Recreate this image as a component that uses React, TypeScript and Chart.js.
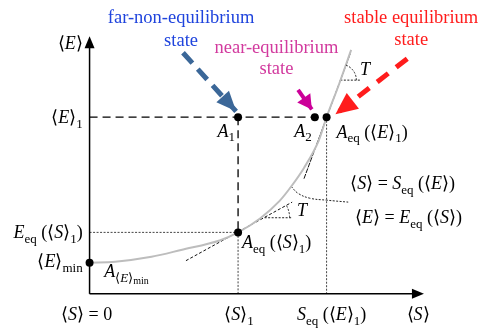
import React, { useEffect, useRef } from "react";
import { Chart, registerables } from "chart.js";
Chart.register(...registerables);

// ---- key values (x = <S>, y = <E>) ----
const S_ONE = 1.51;
const S_EQ = 2.41;
const S_A2 = 2.29;
const S_AXIS_END = 3.4;
const E_MIN = 0.32;
const E_EQ_S1 = 0.63;
const E_ONE = 1.81;
const E_AXIS_END = 2.64;

// equilibrium curve E_eq(S)
const curveS = [0, 0.26, 0.63, 0.93, 1.33, 1.51, 1.73, 1.93, 2.05, 2.18, 2.33, 2.41, 2.53, 2.66];
const curveE = [0.32, 0.33, 0.38, 0.45, 0.55, 0.63, 0.77, 0.95, 1.1, 1.29, 1.57, 1.81, 2.13, 2.5];

// tangents (slope = T)
const tangent1S = [0.98, 2.06];
const tangent1E = [0.34, 0.94];
const tangent2S = [2.18, 2.65];
const tangent2E = [1.18, 2.46];
const angle1S = [1.78, 2.06];
const angle1E = [0.78, 0.78];
const angle2S = [2.55, 2.76];
const angle2E = [2.19, 2.19];

// leader from curve to the two equation labels
const leaderS = [2.05, 2.12, 2.24, 2.41, 2.63];
const leaderE = [1.1, 1.03, 0.98, 0.96, 0.94];

// state arrows [fromS, fromE, toS, toE]
const blueArrow = [0.95, 2.47, 1.49, 1.87];
const magentaArrow = [2.12, 2.09, 2.26, 1.89];
const redArrow = [3.23, 2.41, 2.5, 1.84];

type Seg = { t: string; i?: boolean; s?: number };
const R = (t: string): Seg => ({ t });
const I = (t: string): Seg => ({ t, i: true });
const B = (t: string): Seg => ({ t, s: 1 });
const BI = (t: string): Seg => ({ t, s: 1, i: true });
const BB = (t: string): Seg => ({ t, s: 2 });

const mathLabels: { at: number[]; align: string; segs: Seg[] }[] = [
  { at: [-0.07, 2.56], align: "right", segs: [R("⟨"), I("E"), R("⟩")] },
  { at: [-0.07, 1.8], align: "right", segs: [R("⟨"), I("E"), R("⟩"), B("1")] },
  { at: [-0.07, 0.62], align: "right", segs: [I("E"), B("eq"), R(" (⟨"), I("S"), R("⟩"), B("1"), R(")")] },
  { at: [-0.07, 0.32], align: "right", segs: [R("⟨"), I("E"), R("⟩"), B("min")] },
  { at: [-0.03, -0.22], align: "center", segs: [R("⟨"), I("S"), R("⟩ = 0")] },
  { at: [1.52, -0.22], align: "center", segs: [R("⟨"), I("S"), R("⟩"), B("1")] },
  { at: [2.46, -0.22], align: "center", segs: [I("S"), B("eq"), R(" (⟨"), I("E"), R("⟩"), B("1"), R(")")] },
  { at: [3.34, -0.22], align: "center", segs: [R("⟨"), I("S"), R("⟩")] },
  { at: [1.3, 1.66], align: "left", segs: [I("A"), B("1")] },
  { at: [2.08, 1.66], align: "left", segs: [I("A"), B("2")] },
  { at: [2.51, 1.65], align: "left", segs: [I("A"), B("eq"), R(" (⟨"), I("E"), R("⟩"), B("1"), R(")")] },
  { at: [2.65, 1.12], align: "left", segs: [R("⟨"), I("S"), R("⟩ = "), I("S"), B("eq"), R(" (⟨"), I("E"), R("⟩)")] },
  { at: [2.7, 0.77], align: "left", segs: [R("⟨"), I("E"), R("⟩ = "), I("E"), B("eq"), R(" (⟨"), I("S"), R("⟩)")] },
  { at: [1.55, 0.52], align: "left", segs: [I("A"), B("eq"), R(" (⟨"), I("S"), R("⟩"), B("1"), R(")")] },
  { at: [0.15, 0.22], align: "left", segs: [I("A"), B("⟨"), BI("E"), B("⟩"), BB("min")] },
  { at: [2.16, 0.85], align: "center", segs: [I("T")] },
  { at: [2.8, 2.29], align: "center", segs: [I("T")] },
];

const stateLabels: { at: number[]; text: string; color: string }[] = [
  { at: [0.93, 2.82], text: "far-non-equilibrium", color: "#1f44dd" },
  { at: [0.93, 2.59], text: "state", color: "#1f44dd" },
  { at: [1.9, 2.52], text: "near-equilibrium", color: "#d23a9e" },
  { at: [1.9, 2.3], text: "state", color: "#d23a9e" },
  { at: [3.27, 2.82], text: "stable equilibrium", color: "#ff1c1c" },
  { at: [3.27, 2.6], text: "state", color: "#ff1c1c" },
];

const FAMILY = '"Liberation Serif"';
const segSize = (s: Seg) => (s.s === 1 ? 13 : s.s === 2 ? 10 : 18);
const segFont = (s: Seg) => `${s.i ? "italic " : ""}${segSize(s)}px ${FAMILY}`;
const segDy = (s: Seg) => (s.s === 1 ? 6 : s.s === 2 ? 9 : 0);

const pts = (xs: number[], ys: number[]) => xs.map((x, k) => ({ x, y: ys[k] }));

function drawHead(ctx: CanvasRenderingContext2D, x0: number, y0: number, x1: number, y1: number, len: number, wid: number, color: string) {
  const a = Math.atan2(y1 - y0, x1 - x0);
  ctx.save();
  ctx.translate(x1, y1);
  ctx.rotate(a);
  ctx.beginPath();
  ctx.moveTo(0, 0);
  ctx.lineTo(-len, wid / 2);
  ctx.lineTo(-len, -wid / 2);
  ctx.closePath();
  ctx.fillStyle = color;
  ctx.fill();
  ctx.restore();
}

const overlay = {
  id: "overlay",
  afterDatasetsDraw(chart: any) {
    const ctx: CanvasRenderingContext2D = chart.ctx;
    const xs = chart.scales.x;
    const ys = chart.scales.y;
    const px = (v: number) => xs.getPixelForValue(v);
    const py = (v: number) => ys.getPixelForValue(v);
    ctx.save();
    drawHead(ctx, px(0), py(0), px(S_AXIS_END), py(0), 12, 10, "#000");
    drawHead(ctx, px(0), py(0), px(0), py(E_AXIS_END), 12, 10, "#000");
    const heads: [number[], string, number, number][] = [
      [blueArrow, "#3b6798", 20, 17],
      [magentaArrow, "#cc0099", 14, 16],
      [redArrow, "#ff1c1c", 22, 20],
    ];
    heads.forEach(([a, c, l, w]) => drawHead(ctx, px(a[0]), py(a[1]), px(a[2]), py(a[3]), l, w, c));
    ctx.strokeStyle = "#222";
    ctx.lineWidth = 1;
    ctx.setLineDash([2, 1.5]);
    const arcs: [number, number, number, number][] = [
      [angle1S[0], angle1E[0], (tangent1E[1] - tangent1E[0]) / (tangent1S[1] - tangent1S[0]), 25],
      [angle2S[0], angle2E[0], (tangent2E[1] - tangent2E[0]) / (tangent2S[1] - tangent2S[0]), 16],
    ];
    arcs.forEach(([s, e, slope, r]) => {
      const cx = px(s), cy = py(e);
      const ang = Math.atan(slope * (ys.height / (ys.max - ys.min)) / (xs.width / (xs.max - xs.min)));
      ctx.beginPath();
      ctx.arc(cx, cy, r, -ang, 0);
      ctx.stroke();
    });
    ctx.setLineDash([]);
    ctx.textBaseline = "middle";
    ctx.textAlign = "center";
    ctx.font = `18.5px ${FAMILY}`;
    stateLabels.forEach((l) => {
      ctx.fillStyle = l.color;
      ctx.fillText(l.text, px(l.at[0]), py(l.at[1]));
    });
    ctx.fillStyle = "#000";
    ctx.textAlign = "left";
    mathLabels.forEach((l) => {
      let w = 0;
      l.segs.forEach((s) => {
        ctx.font = segFont(s);
        w += ctx.measureText(s.t).width;
      });
      let x = px(l.at[0]);
      if (l.align === "right") x -= w;
      else if (l.align === "center") x -= w / 2;
      const y = py(l.at[1]);
      l.segs.forEach((s) => {
        ctx.font = segFont(s);
        ctx.fillText(s.t, x, y + segDy(s));
        x += ctx.measureText(s.t).width;
      });
    });
    ctx.restore();
  },
};

export default function App() {
  const ref = useRef<HTMLCanvasElement | null>(null);
  useEffect(() => {
    if (!ref.current) return;
    const line = (data: any[], color: string, width: number, dash: number[] = [], extra: any = {}) => ({
      data,
      showLine: true,
      borderColor: color,
      borderWidth: width,
      borderDash: dash,
      pointRadius: 0,
      fill: false,
      ...extra,
    });
    const chart = new Chart(ref.current, {
      type: "scatter",
      data: {
        datasets: [
          {
            data: [
              { x: S_ONE, y: E_ONE },
              { x: S_A2, y: E_ONE },
              { x: S_EQ, y: E_ONE },
              { x: S_ONE, y: E_EQ_S1 },
              { x: 0, y: E_MIN },
            ],
            pointRadius: 4,
            pointBackgroundColor: "#000",
            pointBorderWidth: 0,
            showLine: false,
          } as any,
          line(pts([0, 0], [0, E_AXIS_END - 0.08]), "#000", 1.5),
          line(pts([0, S_AXIS_END - 0.08], [0, 0]), "#000", 1.5),
          line(pts(curveS, curveE), "#bdbdbd", 2, [], { cubicInterpolationMode: "monotone" }),
          line(pts(tangent1S, tangent1E), "#111", 1, [3, 2]),
          line(pts(tangent2S, tangent2E), "#111", 1, [5, 1]),
          line(pts([0, S_EQ], [E_ONE, E_ONE]), "#000", 1.3, [8, 5]),
          line(pts([S_ONE, S_ONE], [E_ONE, E_EQ_S1]), "#000", 1.3, [8, 5]),
          line(pts([S_ONE, S_ONE], [E_EQ_S1, 0]), "#444", 1, [2, 1.5]),
          line(pts([0, S_ONE], [E_EQ_S1, E_EQ_S1]), "#444", 1, [2, 1.5]),
          line(pts([S_EQ, S_EQ], [E_ONE, 0]), "#444", 1, [2, 1.5]),
          line(pts(angle1S, angle1E), "#222", 1, [2, 1.5]),
          line(pts(angle2S, angle2E), "#222", 1, [2, 1.5]),
          line(pts(leaderS, leaderE), "#222", 1, [2, 1.5], { tension: 0.4 }),
          line(pts([blueArrow[0], blueArrow[2]], [blueArrow[1], blueArrow[3]]), "#3b6798", 5, [14, 8]),
          line(pts([magentaArrow[0], magentaArrow[2]], [magentaArrow[1], magentaArrow[3]]), "#cc0099", 4),
          line(pts([redArrow[0], redArrow[2]], [redArrow[1], redArrow[3]]), "#ff1c1c", 5, [14, 10]),
        ],
      },
      options: {
        animation: false,
        responsive: false,
        maintainAspectRatio: false,
        layout: { padding: 0 },
        plugins: { legend: { display: false }, tooltip: { enabled: false } },
        scales: {
          x: { type: "linear", min: -0.87, max: 3.98, display: false },
          y: { type: "linear", min: -0.36, max: 2.97, display: false },
        },
      },
      plugins: [overlay],
    });
    return () => chart.destroy();
  }, []);
  return (
    <div style={{ position: "fixed", left: 0, top: 0, width: 485, height: 333, background: "#fff" }}>
      <canvas ref={ref} width={485} height={333} />
    </div>
  );
}
